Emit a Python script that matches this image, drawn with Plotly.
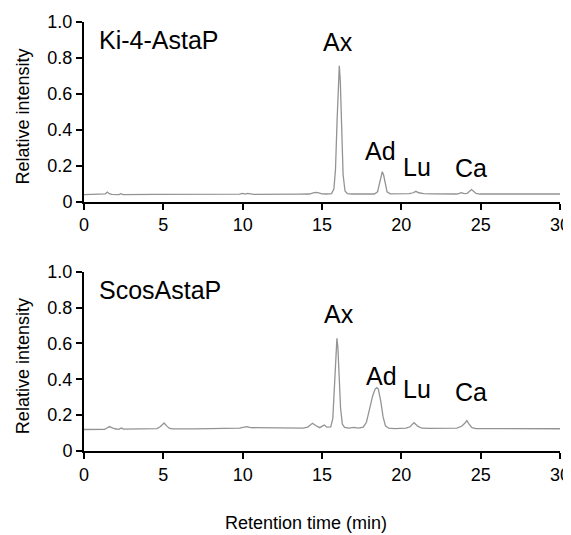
import plotly.graph_objects as go

# Top chromatogram (Ki-4-AstaP): retention time (min) and relative intensity
top_time = [0.0, 1.2, 1.35, 1.47, 1.6, 1.75, 2.2, 2.33, 2.45, 4.4, 5.6, 9.8, 10.0, 10.15, 10.3, 10.45, 10.7,
            13.5, 14.2, 14.45, 14.6, 14.8, 15.0, 15.3, 15.6, 15.75, 15.85, 15.95, 16.03, 16.09, 16.15, 16.23,
            16.33, 16.45, 16.6, 16.9, 18.3, 18.5, 18.62, 18.72, 18.8, 18.88, 18.98, 19.1, 19.3, 19.75, 19.87,
            20.05, 20.5, 20.75, 20.92, 21.1, 21.4, 21.9, 23.5, 23.7, 23.8, 23.95, 24.15, 24.3, 24.42, 24.55,
            24.7, 24.95, 27.0, 30.0]
top_int = [0.040, 0.040, 0.044, 0.054, 0.045, 0.041, 0.040, 0.045, 0.040, 0.041, 0.041, 0.042, 0.046, 0.043,
           0.046, 0.044, 0.041, 0.042, 0.043, 0.049, 0.052, 0.049, 0.044, 0.043, 0.045, 0.07, 0.18, 0.45, 0.68,
           0.757, 0.68, 0.42, 0.15, 0.06, 0.045, 0.043, 0.043, 0.055, 0.10, 0.15, 0.167, 0.15, 0.10, 0.055,
           0.044, 0.044, 0.048, 0.044, 0.045, 0.050, 0.058, 0.050, 0.045, 0.044, 0.043, 0.048, 0.050, 0.045,
           0.047, 0.058, 0.068, 0.058, 0.046, 0.043, 0.043, 0.043]

# Bottom chromatogram (ScosAstaP)
bot_time = [0.0, 1.3, 1.45, 1.6, 1.75, 1.95, 2.2, 2.35, 2.5, 3.0, 4.6, 4.8, 4.95, 5.05, 5.2, 5.4, 5.6, 7.0,
            9.8, 10.1, 10.25, 10.5, 13.8, 14.1, 14.3, 14.4, 14.6, 14.85, 15.05, 15.15, 15.3, 15.55, 15.68,
            15.78, 15.87, 15.94, 16.0, 16.08, 16.17, 16.28, 16.42, 16.7, 17.0, 17.3, 17.6, 17.8, 18.0, 18.2,
            18.35, 18.45, 18.55, 18.7, 18.85, 19.0, 19.2, 19.6, 20.3, 20.55, 20.8, 21.05, 21.3, 21.8, 23.5,
            23.8, 24.0, 24.13, 24.27, 24.45, 24.7, 27.0, 30.0]
bot_int = [0.120, 0.121, 0.128, 0.136, 0.130, 0.124, 0.121, 0.128, 0.122, 0.122, 0.125, 0.135, 0.150, 0.156,
           0.140, 0.126, 0.123, 0.123, 0.128, 0.133, 0.136, 0.130, 0.128, 0.133, 0.150, 0.155, 0.142, 0.130,
           0.140, 0.145, 0.133, 0.135, 0.18, 0.34, 0.55, 0.628, 0.58, 0.42, 0.24, 0.15, 0.132, 0.128, 0.132,
           0.128, 0.133, 0.16, 0.23, 0.31, 0.345, 0.353, 0.345, 0.28, 0.19, 0.14, 0.127, 0.125, 0.127, 0.135,
           0.158, 0.137, 0.127, 0.126, 0.128, 0.138, 0.155, 0.169, 0.15, 0.13, 0.125, 0.124, 0.124]

# Panel texts and peak labels
panel_names = ["Ki-4-AstaP", "ScosAstaP"]
panel_name_y = [0.9, 0.9]
peak_names = ["Ax", "Ad", "Lu", "Ca"]
top_label_x = [16.0, 18.71, 20.97, 24.39]
top_label_y = [0.888, 0.285, 0.195, 0.188]
bot_label_x = [16.05, 18.75, 20.97, 24.42]
bot_label_y = [0.765, 0.418, 0.346, 0.33]

y_ticks = [0, 0.2, 0.4, 0.6, 0.8, 1.0]
y_ticktext = ["0", "0.2", "0.4", "0.6", "0.8", "1.0"]
x_ticks = [0, 5, 10, 15, 20, 25, 30]

FONT = "Liberation Sans, Arial, Helvetica, sans-serif"
LINE_COLOR = "#939393"
LABEL_SIZE = 25

fig = go.Figure()
fig.add_trace(go.Scatter(x=top_time, y=top_int, mode="lines", xaxis="x", yaxis="y",
                         line=dict(color=LINE_COLOR, width=1.3), showlegend=False, hoverinfo="skip"))
fig.add_trace(go.Scatter(x=bot_time, y=bot_int, mode="lines", xaxis="x2", yaxis="y2",
                         line=dict(color=LINE_COLOR, width=1.3), showlegend=False, hoverinfo="skip"))

axis_common = dict(showgrid=False, zeroline=False, showline=True, linecolor="black", linewidth=2,
                   ticks="outside", tickwidth=2, ticklen=6, tickcolor="black", automargin=False,
                   ticklabeloverflow="allow",
                   tickfont=dict(family=FONT, size=18, color="black"))

# page body has an 8px margin, so the figure is 8px smaller and margins shifted
fig.update_layout(
    width=563, height=527, autosize=False,
    margin=dict(l=76, r=11, t=14, b=84),
    paper_bgcolor="white", plot_bgcolor="white",
    font=dict(family=FONT, color="black"),
    xaxis=dict(domain=[0, 1], range=[0, 30], tickvals=x_ticks, anchor="y", **axis_common),
    yaxis=dict(domain=[0.581, 1.0], range=[0, 1], tickvals=y_ticks, ticktext=y_ticktext, anchor="x",
               **axis_common),
    xaxis2=dict(domain=[0, 1], range=[0, 30], tickvals=x_ticks, anchor="y2", **axis_common),
    yaxis2=dict(domain=[0.0, 0.418], range=[0, 1], tickvals=y_ticks, ticktext=y_ticktext, anchor="x2",
                **axis_common),
)

ann = []
ann.append(dict(x=0.8, y=panel_name_y[0], xref="x", yref="y", text=panel_names[0], showarrow=False,
                xanchor="left", yanchor="middle", font=dict(size=LABEL_SIZE, family=FONT)))
ann.append(dict(x=0.8, y=panel_name_y[1], xref="x2", yref="y2", text=panel_names[1], showarrow=False,
                xanchor="left", yanchor="middle", font=dict(size=LABEL_SIZE, family=FONT)))
for name, x, y in zip(peak_names, top_label_x, top_label_y):
    ann.append(dict(x=x, y=y, xref="x", yref="y", text=name, showarrow=False,
                    xanchor="center", yanchor="middle", font=dict(size=LABEL_SIZE, family=FONT)))
for name, x, y in zip(peak_names, bot_label_x, bot_label_y):
    ann.append(dict(x=x, y=y, xref="x2", yref="y2", text=name, showarrow=False,
                    xanchor="center", yanchor="middle", font=dict(size=LABEL_SIZE, family=FONT)))
ann.append(dict(x=-0.128, y=0.78, xref="paper", yref="paper", text="Relative intensity", textangle=-90,
                showarrow=False, xanchor="center", yanchor="middle", font=dict(size=18, family=FONT)))
ann.append(dict(x=-0.128, y=0.198, xref="paper", yref="paper", text="Relative intensity", textangle=-90,
                showarrow=False, xanchor="center", yanchor="middle", font=dict(size=18, family=FONT)))
ann.append(dict(x=0.466, y=-0.168, xref="paper", yref="paper", text="Retention time (min)",
                showarrow=False, xanchor="center", yanchor="middle", font=dict(size=18, family=FONT)))
fig.update_layout(annotations=ann)

fig.write_html("out.html")
